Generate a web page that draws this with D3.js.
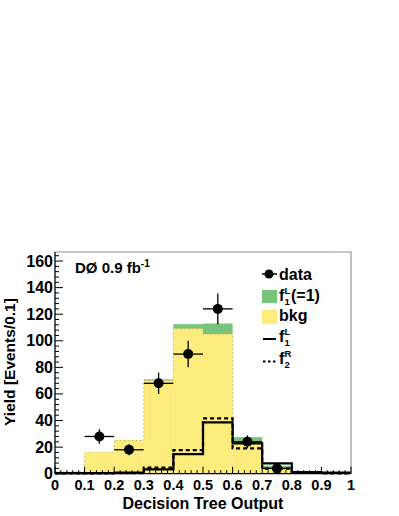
<!DOCTYPE html>
<html>
<head>
<meta charset="utf-8">
<script src="https://cdn.jsdelivr.net/npm/d3@7"></script>
<style>
  body {margin: 0; background: #fff;}
  svg {display: block; font-family: "Liberation Sans", Arial, sans-serif; font-weight: bold;}
</style>
</head>
<body>
<svg id="chart" width="399" height="516"></svg>
<script>
"use strict";
// bin edges of the decision tree output histogram
const binEdges = [0, 0.1, 0.2, 0.3, 0.4, 0.5, 0.6, 0.7, 0.8, 0.9, 1.0];
const bkg    = [1.5, 16, 25, 70, 109, 105, 23, 4, 1, 0.3];
const signal = [0, 0, 0.2, 1, 3.5, 8, 4.5, 2, 0, 0];
const f1L    = [0.5, 0.5, 0.8, 3.3, 14.8, 38.6, 22.8, 7.8, 1.2, 0.8];
const f2R    = [0.3, 0.3, 0.5, 4.5, 17.8, 41.6, 19, 3.8, 0.6, 0.3];
const dataX   = [0.15, 0.25, 0.35, 0.45, 0.55, 0.65, 0.75];
const dataY   = [28, 18, 68, 90, 124, 24, 4];
const dataErr = [5.5, 4.2, 8, 10, 11.5, 4.9, 2];
const xTicks = [0, 0.1, 0.2, 0.3, 0.4, 0.5, 0.6, 0.7, 0.8, 0.9, 1];
const yTicks = [0, 20, 40, 60, 80, 100, 120, 140, 160];

const svg = d3.select("#chart");
const x = d3.scaleLinear().domain([0, 1]).range([55, 351]);
const y = d3.scaleLinear().domain([0, 166.8]).range([473.7, 252]);
const yellow = "#fcec7c", green = "#78c47b";

drawBars();
drawLines();
drawData();
drawAxes();
drawLegend();

function steps(vals){
  const pts = [];
  vals.forEach((v, i) => { pts.push([binEdges[i], v]); pts.push([binEdges[i + 1], v]); });
  return d3.line().x(d => x(d[0])).y(d => y(d[1]))(pts);
}

function drawBars(){
  const g = svg.append("g");
  bkg.forEach((v, i) => {
    const x0 = x(binEdges[i]), w = x(binEdges[i + 1]) - x0;
    g.append("rect").attr("x", x0).attr("width", w)
      .attr("y", y(v + signal[i])).attr("height", y(v) - y(v + signal[i])).attr("fill", green);
    g.append("rect").attr("x", x0).attr("width", w)
      .attr("y", y(v)).attr("height", y(0) - y(v)).attr("fill", yellow);
  });
  g.append("path").attr("d", steps(bkg)).attr("fill", "none")
    .attr("stroke", "#cdb84a").attr("stroke-width", 1).attr("stroke-dasharray", "1.5,2.5");
}

function drawLines(){
  svg.append("path").attr("d", steps(f2R)).attr("fill", "none")
    .attr("stroke", "#000").attr("stroke-width", 2.2).attr("stroke-dasharray", "4,3");
  svg.append("path").attr("d", steps(f1L)).attr("fill", "none")
    .attr("stroke", "#000").attr("stroke-width", 2.2);
}

function drawData(){
  const g = svg.append("g").attr("stroke", "#000").attr("stroke-width", 1.3);
  dataX.forEach((v, i) => {
    g.append("line").attr("x1", x(v - 0.05)).attr("x2", x(v + 0.05)).attr("y1", y(dataY[i])).attr("y2", y(dataY[i]));
    g.append("line").attr("x1", x(v)).attr("x2", x(v)).attr("y1", y(dataY[i] - dataErr[i])).attr("y2", y(dataY[i] + dataErr[i]));
    g.append("circle").attr("cx", x(v)).attr("cy", y(dataY[i])).attr("r", 5).attr("fill", "#000").attr("stroke", "none");
  });
}

function drawAxes(){
  // frame
  svg.append("path").attr("d", `M${x(0)},${y.range()[1]}H${x(1)}V${y(0)}`)
    .attr("fill", "none").attr("stroke", "#a08a8a").attr("stroke-width", 1.2);

  const ax = svg.append("g").attr("stroke", "#000").attr("stroke-width", 1);
  ax.append("line").attr("x1", x(0)).attr("x2", x(1)).attr("y1", y(0)).attr("y2", y(0)).attr("stroke-width", 1.3);
  ax.append("line").attr("x1", x(0)).attr("x2", x(0)).attr("y1", y(0)).attr("y2", y.range()[1]).attr("stroke-width", 1.3);

  // x ticks: major 0.1, minor 0.02
  d3.range(0, 51).forEach(k => {
    const major = k % 5 === 0;
    ax.append("line").attr("x1", x(k / 50)).attr("x2", x(k / 50))
      .attr("y1", y(0)).attr("y2", y(0) - (major ? 7 : 3.5));
  });
  // y ticks: major 20, minor 4
  d3.range(0, 42).forEach(k => {
    const major = k % 5 === 0;
    ax.append("line").attr("x1", x(0)).attr("x2", x(0) + (major ? 8 : 4))
      .attr("y1", y(k * 4)).attr("y2", y(k * 4));
  });

  svg.append("g").selectAll("text").data(xTicks).join("text")
    .attr("x", d => x(d)).attr("y", 490).attr("text-anchor", "middle")
    .attr("font-size", 14.5).text(d => d === 0 || d === 1 ? d : d.toFixed(1));
  svg.append("g").selectAll("text").data(yTicks).join("text")
    .attr("x", 53).attr("y", d => y(d) + 5.5).attr("text-anchor", "end")
    .attr("font-size", 16).text(d => d);

  svg.append("text").attr("x", 203).attr("y", 509).attr("text-anchor", "middle")
    .attr("font-size", 16).text("Decision Tree Output");
  svg.append("text").attr("transform", "translate(15,362) rotate(-90)").attr("text-anchor", "middle")
    .attr("font-size", 15.5).text("Yield [Events/0.1]");

  const lab = svg.append("text").attr("x", 75).attr("y", 273).attr("font-size", 15);
  lab.append("tspan").text("DØ 0.9 fb");
  lab.append("tspan").attr("font-size", 10).attr("dy", -6).text("-1");
}

function drawLegend(){
  const g = svg.append("g").attr("font-size", 16);
  g.append("line").attr("x1", 262).attr("x2", 277).attr("y1", 274).attr("y2", 274).attr("stroke", "#000").attr("stroke-width", 1.5);
  g.append("circle").attr("cx", 269).attr("cy", 274).attr("r", 4.5);
  g.append("text").attr("x", 279).attr("y", 280).text("data");

  g.append("rect").attr("x", 262).attr("y", 290).attr("width", 15).attr("height", 13).attr("fill", green);
  fLabel(g, 301, "L", "1", "(=1)");

  g.append("rect").attr("x", 262).attr("y", 310).attr("width", 15).attr("height", 14).attr("fill", yellow);
  g.append("text").attr("x", 279).attr("y", 321).text("bkg");

  g.append("line").attr("x1", 263).attr("x2", 276).attr("y1", 339).attr("y2", 339).attr("stroke", "#000").attr("stroke-width", 2);
  fLabel(g, 342, "L", "1", "");

  g.append("line").attr("x1", 263).attr("x2", 277).attr("y1", 361.5).attr("y2", 361.5).attr("stroke", "#000").attr("stroke-width", 2).attr("stroke-dasharray", "2.5,2.5");
  fLabel(g, 364, "R", "2", "");

  function fLabel(sel, yb, sup, sub, tail){
    sel.append("text").attr("x", 279).attr("y", yb).text("f");
    sel.append("text").attr("x", 284.5).attr("y", yb - 7).attr("font-size", 9.5).text(sup);
    sel.append("text").attr("x", 284.5).attr("y", yb + 4).attr("font-size", 9.5).text(sub);
    if (tail) sel.append("text").attr("x", 291).attr("y", yb).text(tail);
  }
}
</script>
</body>
</html>
